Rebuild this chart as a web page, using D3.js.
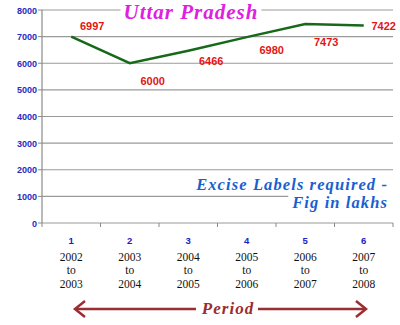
<!DOCTYPE html>
<html><head><meta charset="utf-8">
<script src="https://cdn.jsdelivr.net/npm/d3@7"></script>
<style>body{margin:0;background:#fff}svg{display:block}</style>
</head><body><svg id="c" width="400" height="325"></svg>
<script>
const periodNums = ["1","2","3","4","5","6"];
const periodStart = ["2002","2003","2004","2005","2006","2007"];
const periodEnd = ["2003","2004","2005","2006","2007","2008"];
const values = [6997, 6000, 6466, 6980, 7473, 7422];
const yTicks = [0,1000,2000,3000,4000,5000,6000,7000,8000];
const title = "Uttar Pradesh";
const noteLines = ["Excise Labels required -", "Fig in lakhs"];
const axisTitle = "Period";

const svg = d3.select("#c");
const L = 42, R = 393, T = 10, B = 223;
const x = d3.scaleBand().domain(periodNums).range([L, R]);
const y = d3.scaleLinear().domain([0, 8000]).range([B, T]);

const grid = svg.append("g");
grid.selectAll("line").data(yTicks).join("line")
  .attr("x1", L).attr("x2", R).attr("y1", d => y(d)).attr("y2", d => y(d))
  .attr("stroke", "#9a9a9a").attr("stroke-width", 1.2);
const cover = svg.append("g");
svg.append("line").attr("x1", L).attr("x2", L).attr("y1", T).attr("y2", B)
  .attr("stroke", "#8a8a8a").attr("stroke-width", 1.2);
svg.append("g").selectAll("line").data(yTicks).join("line")
  .attr("x1", L - 4).attr("x2", L).attr("y1", d => y(d)).attr("y2", d => y(d))
  .attr("stroke", "#8a8a8a");
const edges = periodNums.map(d => x(d)).concat([R]);
svg.append("g").selectAll("line").data(edges).join("line")
  .attr("x1", d => d).attr("x2", d => d).attr("y1", B).attr("y2", B + 4)
  .attr("stroke", "#8a8a8a");
svg.append("g").selectAll("text").data(yTicks).join("text")
  .attr("x", L - 5).attr("y", d => y(d) + 3.5).attr("text-anchor", "end")
  .attr("font-family", "Liberation Sans, Arial, sans-serif").attr("font-weight", "bold")
  .attr("font-size", 9).attr("fill", "#2b2bc0").text(d => d);

const cx = d => x(d) + x.bandwidth() / 2;
const line = d3.line().x((d, i) => cx(periodNums[i])).y(d => y(d));
svg.append("path").datum(values).attr("d", line).attr("fill", "none")
  .attr("stroke", "#17691a").attr("stroke-width", 2.5);

const lblOff = [[21, -11], [23, 18], [23, 10], [25, 13], [21, 18], [20, 1]];
svg.append("g").selectAll("text").data(values).join("text")
  .attr("x", (d, i) => cx(periodNums[i]) + lblOff[i][0])
  .attr("y", (d, i) => y(d) + lblOff[i][1] + 4)
  .attr("text-anchor", "middle")
  .attr("font-family", "Liberation Sans, Arial, sans-serif").attr("font-weight", "bold")
  .attr("font-size", 11).attr("fill", "#e41414").text(d => d);

const tt = svg.append("text").attr("x", 191).attr("y", 19).attr("text-anchor", "middle")
  .attr("font-family", "Liberation Serif, serif").attr("font-style", "italic").attr("font-weight", "bold")
  .attr("font-size", 21).attr("fill", "#e020e0").attr("letter-spacing", 1).text(title);
const tb = tt.node().getBBox();
cover.append("rect").attr("x", tb.x - 3).attr("y", tb.y).attr("width", tb.width + 6).attr("height", tb.height).attr("fill", "#fff");

const noteFont = 16.5, noteSp = 1.1;
const n2 = svg.append("text").attr("x", 388).attr("y", 208).attr("text-anchor", "end")
  .attr("font-family", "Liberation Serif, serif").attr("font-style", "italic").attr("font-weight", "bold")
  .attr("font-size", noteFont).attr("fill", "#1a5fd0").attr("letter-spacing", noteSp).text(noteLines[1]);
const nb = n2.node().getBBox();
cover.append("rect").attr("x", nb.x - 3).attr("y", nb.y).attr("width", R + 2 - (nb.x - 3)).attr("height", nb.height).attr("fill", "#fff");
svg.append("text").attr("x", 388).attr("y", 190).attr("text-anchor", "end")
  .attr("font-family", "Liberation Serif, serif").attr("font-style", "italic").attr("font-weight", "bold")
  .attr("font-size", noteFont).attr("fill", "#1a5fd0").attr("letter-spacing", noteSp).text(noteLines[0]);

const cat = svg.append("g").selectAll("g").data(periodNums).join("g")
  .attr("transform", d => `translate(${cx(d)},0)`);
cat.append("text").attr("y", 244).attr("text-anchor", "middle")
  .attr("font-family", "Liberation Sans, Arial, sans-serif").attr("font-weight", "bold")
  .attr("font-size", 9.5).attr("fill", "#2020c8").text(d => d);
const sf = "Liberation Serif, serif";
cat.append("text").attr("y", 261).attr("text-anchor", "middle").attr("font-family", sf)
  .attr("font-size", 11.5).attr("fill", "#111").text((d, i) => periodStart[i]);
cat.append("text").attr("y", 274).attr("text-anchor", "middle").attr("font-family", sf)
  .attr("font-size", 11.5).attr("fill", "#111").text("to");
cat.append("text").attr("y", 288).attr("text-anchor", "middle").attr("font-family", sf)
  .attr("font-size", 11.5).attr("fill", "#111").text((d, i) => periodEnd[i]);

const ac = "#9b2d32";
const ay = 309;
svg.append("line").attr("x1", 75).attr("x2", 196).attr("y1", ay).attr("y2", ay).attr("stroke", ac).attr("stroke-width", 2.5);
svg.append("line").attr("x1", 258).attr("x2", 364).attr("y1", ay).attr("y2", ay).attr("stroke", ac).attr("stroke-width", 2.5);
svg.append("path").attr("d", `M85,${ay-8} L75,${ay} L85,${ay+8}`).attr("fill", "none").attr("stroke", ac).attr("stroke-width", 2.5);
svg.append("path").attr("d", `M356,${ay-8} L366,${ay} L356,${ay+8}`).attr("fill", "none").attr("stroke", ac).attr("stroke-width", 2.5);
svg.append("text").attr("x", 228).attr("y", 314).attr("text-anchor", "middle")
  .attr("font-family", sf).attr("font-style", "italic").attr("font-weight", "bold")
  .attr("font-size", 17).attr("fill", ac).attr("letter-spacing", 1).text(axisTitle);
</script>
</body></html>
